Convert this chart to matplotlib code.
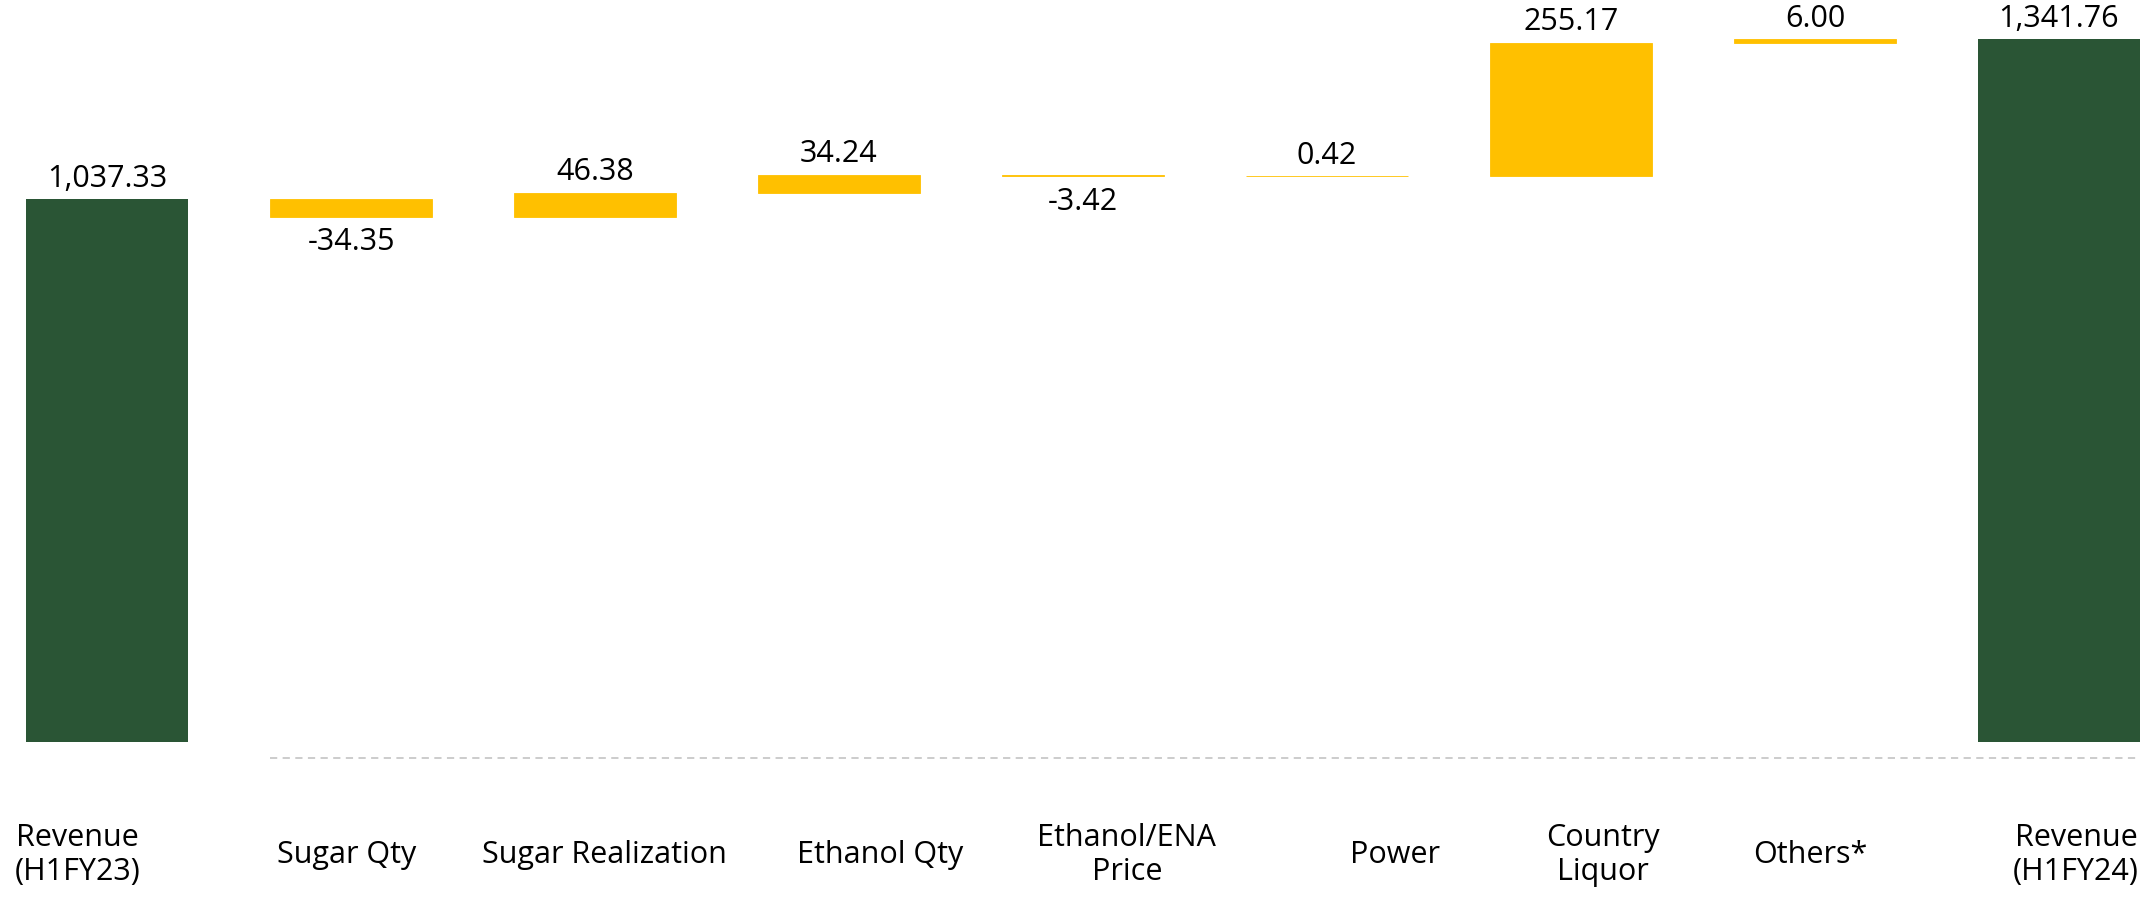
import numpy as np
import matplotlib.pyplot as plt

plt.rcParams['font.family'] = ['Open Sans', 'DejaVu Sans']

# data
categories = ['Revenue\n(H1FY23)', 'Sugar Qty', 'Sugar Realization', 'Ethanol Qty',
              'Ethanol/ENA\nPrice', 'Power', 'Country\nLiquor', 'Others*', 'Revenue\n(H1FY24)']
start_value = 1037.33
changes = [-34.35, 46.38, 34.24, -3.42, 0.42, 255.17, 6.00]
end_value = 1341.76

# small nudges of the category text (in category units), as in the slide
label_shift = [-0.12, -0.02, 0.04, 0.17, 0.18, 0.28, 0.13, -0.02, 0.07]

green = '#2A5535'
yellow = '#FFC000'
width = 0.664
fsize = 22

fig = plt.figure(figsize=(21.54, 8.97), dpi=100)
ax = fig.add_axes([0, 0, 1, 1])

x = np.arange(len(categories))

# totals
ax.bar([0, len(categories) - 1], [start_value, end_value], width=width, color=green)

# steps
running = start_value + np.concatenate([[0], np.cumsum(changes)])
bottoms = np.minimum(running[:-1], running[1:])
ax.bar(x[1:-1], np.abs(changes), bottom=bottoms, width=width, color=yellow,
       edgecolor=yellow, linewidth=0.6)

# value labels
def put_label(xpos, top, bottom, value, neg):
    txt = f'{value:,.2f}'
    if neg:
        ax.annotate(txt, (xpos, bottom), xytext=(0, -18.5), textcoords='offset points',
                    ha='center', va='center', fontsize=fsize, color='#000000')
    else:
        ax.annotate(txt, (xpos, top), xytext=(0, 14.5), textcoords='offset points',
                    ha='center', va='center', fontsize=fsize, color='#000000')

put_label(0, start_value, 0, start_value, False)
for i, c in enumerate(changes):
    put_label(i + 1, bottoms[i] + abs(c), bottoms[i], c, c < 0)
put_label(len(categories) - 1, end_value, 0, end_value, False)

# dashed base line
ax.plot([1 - width / 2, len(categories) - 1 + width / 2], [-30, -30],
        color='#C8C8C8', lw=1.3, ls=(0, (4, 3)))

# category labels
for i, name in enumerate(categories):
    ax.text(i + label_shift[i], -216, name, ha='center', va='center',
            fontsize=fsize, color='#000000', linespacing=1.2)

ax.set_xlim(-0.439, 8.39)
ax.set_ylim(-296, 1417)
ax.axis('off')

fig.savefig('out.png', dpi=100)
